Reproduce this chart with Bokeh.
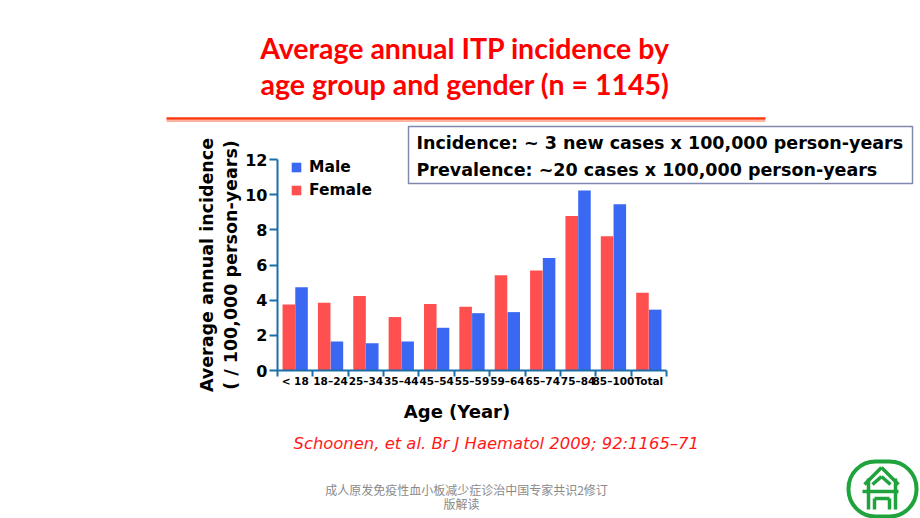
from bokeh.plotting import figure
from bokeh.models import (Range1d, FixedTicker, CustomJSTickFormatter, Label,
                          BoxAnnotation, Arrow)
from bokeh.embed import file_html
from bokeh.resources import INLINE

# ---- data ----
age_groups = ["< 18", "18–24", "25–34", "35–44", "45–54", "55–59",
              "59–64", "65–74", "75–84", "85–100", "Total"]
female = [3.75, 3.85, 4.23, 3.04, 3.78, 3.63, 5.41, 5.69, 8.79, 7.63, 4.42]
male = [4.73, 1.65, 1.55, 1.65, 2.43, 3.26, 3.32, 6.40, 10.23, 9.45, 3.46]
y_ticks = [0, 2, 4, 6, 8, 10, 12]

title_lines = ["Average annual ITP incidence by", "age group and gender (n = 1145)"]
box_lines = ["Incidence: ~ 3 new cases x 100,000 person-years",
             "Prevalence: ~20 cases x 100,000 person-years"]
citation = "Schoonen, et al. Br J Haematol 2009; 92:1165–71"
footer_lines = ["成人原发免疫性血小板减少症诊治中国专家共识2修订", "版解读"]

RED = "#ff4f4f"
BLUE = "#3a68f2"
AXIS = "#1b6fa8"
BOLD_FONT = "DejaVu Sans"

n = len(age_groups)
centers = [i + 0.5 for i in range(n)]
YMAX = 12

W, H = 920, 518
# chart axes placement on the page (pixels): x 0..n -> 277..666, y 0..12 -> 370..159
AX_L, AX_R, AX_T, AX_B = 277.0, 666.0, 159.0, 370.0
def dx(px):
    return (px - AX_L) / (AX_R - AX_L) * n
def dy(py):
    return (AX_B - py) / (AX_B - AX_T) * YMAX

p = figure(width=W, height=H,
           x_range=Range1d(dx(0), dx(W)), y_range=Range1d(dy(H), dy(0)),
           output_backend="svg", toolbar_location=None,
           min_border_left=0, min_border_right=0,
           min_border_top=0, min_border_bottom=0)
p.outline_line_color = None
p.xgrid.visible = False
p.ygrid.visible = False
p.background_fill_color = "white"
p.border_fill_color = "white"

bw = 0.355
p.vbar(x=[c + 0.18 for c in centers], top=male, width=bw, color=BLUE,
       line_color=None, legend_label="Male")
p.vbar(x=[c - 0.18 for c in centers], top=female, width=bw, color=RED,
       line_color=None, legend_label="Female")

# x axis
xa = p.xaxis[0]
xa.fixed_location = 0
xa.bounds = (0, n)
xa.ticker = FixedTicker(ticks=centers, minor_ticks=list(range(n + 1)))
xa.formatter = CustomJSTickFormatter(args=dict(labels=age_groups),
                                     code="return labels[Math.round(tick - 0.5)] || '';")
xa.major_tick_line_color = None
xa.major_tick_out = 0
xa.major_tick_in = 0
xa.minor_tick_out = 6
xa.minor_tick_in = 0
xa.minor_tick_line_color = AXIS
xa.minor_tick_line_width = 2
xa.axis_line_color = AXIS
xa.axis_line_width = 2
xa.major_label_standoff = -2
xa.major_label_text_font = BOLD_FONT
xa.major_label_text_font_style = "bold"
xa.major_label_text_font_size = "10.5px"
xa.major_label_text_color = "black"

# y axis
ya = p.yaxis[0]
ya.fixed_location = 0
ya.bounds = (0, YMAX)
ya.ticker = FixedTicker(ticks=y_ticks)
ya.minor_tick_line_color = None
ya.major_tick_out = 8
ya.major_tick_in = 0
ya.major_tick_line_color = AXIS
ya.major_tick_line_width = 2
ya.axis_line_color = AXIS
ya.axis_line_width = 2
ya.major_label_standoff = 2
ya.major_label_text_font = BOLD_FONT
ya.major_label_text_font_style = "bold"
ya.major_label_text_font_size = "16px"
ya.major_label_text_color = "black"
ya.axis_label = "Average annual incidence\n( / 100,000 person-years)"
ya.axis_label_text_font = BOLD_FONT
ya.axis_label_text_font_style = "bold"
ya.axis_label_text_font_size = "17.5px"
ya.axis_label_text_color = "black"
ya.axis_label_standoff = 1

# legend
lg = p.legend[0]
lg.location = (290, H - 161 - 38)
lg.border_line_color = None
lg.background_fill_alpha = 0
lg.padding = 0
lg.margin = 0
lg.spacing = 5
lg.glyph_width = 12
lg.glyph_height = 12
lg.label_standoff = 7
lg.label_text_font = BOLD_FONT
lg.label_text_font_style = "bold"
lg.label_text_font_size = "15.5px"
lg.label_text_color = "black"

# x axis title
p.add_layout(Label(x=dx(456.5), y=dy(411), text="Age (Year)", text_align="center",
                   text_baseline="middle", text_font=BOLD_FONT, text_font_style="bold",
                   text_font_size="18px", text_color="black"))

# title
for t, yy in zip(title_lines, [47, 83]):
    p.add_layout(Label(x=dx(464.5), y=dy(yy), text=t, text_align="center",
                       text_baseline="middle", text_font="Lato", text_font_style="bold",
                       text_font_size="28.5px", text_color="#ff0000"))

# red rule
p.add_layout(Arrow(end=None, x_start=dx(166), y_start=dy(118), x_end=dx(765), y_end=dy(118),
                   line_color="#ff3a10", line_width=2.5))
p.add_layout(Arrow(end=None, x_start=dx(166), y_start=dy(120.5), x_end=dx(765), y_end=dy(120.5),
                   line_color="#ff9a80", line_width=1.5))

# info box
p.add_layout(BoxAnnotation(left=dx(408), right=dx(912), top=dy(126), bottom=dy(183),
                           fill_color="white", fill_alpha=1.0,
                           line_color="#8088b0", line_alpha=1.0, line_width=1.5))
for t, yy in zip(box_lines, [142, 169]):
    p.add_layout(Label(x=dx(416), y=dy(yy), text=t, text_align="left",
                       text_baseline="middle", text_font=BOLD_FONT, text_font_style="bold",
                       text_font_size="17.5px", text_color="black"))

# citation
p.add_layout(Label(x=dx(293), y=dy(443), text=citation, text_align="left",
                   text_baseline="middle", text_font="DejaVu Sans", text_font_style="italic",
                   text_font_size="16.4px", text_color="#ff1a1a"))

# footer
for t, xx, yy in zip(footer_lines, [466, 461], [489, 503]):
    p.add_layout(Label(x=dx(xx), y=dy(yy), text=t, text_align="center",
                       text_baseline="middle", text_font="Noto Sans CJK SC",
                       text_font_size="12px", text_color="#8a8a8a"))

# logo (decoration)
GREEN = "#1fa33c"
p.add_layout(BoxAnnotation(left=dx(848), right=dx(916), top=dy(461), bottom=dy(516),
                           fill_alpha=0, line_color=GREEN, line_alpha=1.0, line_width=4,
                           border_radius=27))
logo_segments = [
    (864, 484, 881, 467), (881, 467, 898, 484),      # outer roof
    (872, 484, 881, 476), (881, 476, 890, 484),      # inner roof
    (868, 478, 868, 509), (895, 478, 895, 509),      # pillars
    (862, 491, 898, 491),                            # beam
    (874, 509, 874, 498), (874, 498, 889, 498), (889, 498, 889, 509),  # arch
]
for (x0, y0, x1, y1) in logo_segments:
    p.add_layout(Arrow(end=None, x_start=dx(x0), y_start=dy(y0), x_end=dx(x1), y_end=dy(y1),
                       line_color=GREEN, line_width=3.5))

open("out.html", "w").write(file_html(p, INLINE))
